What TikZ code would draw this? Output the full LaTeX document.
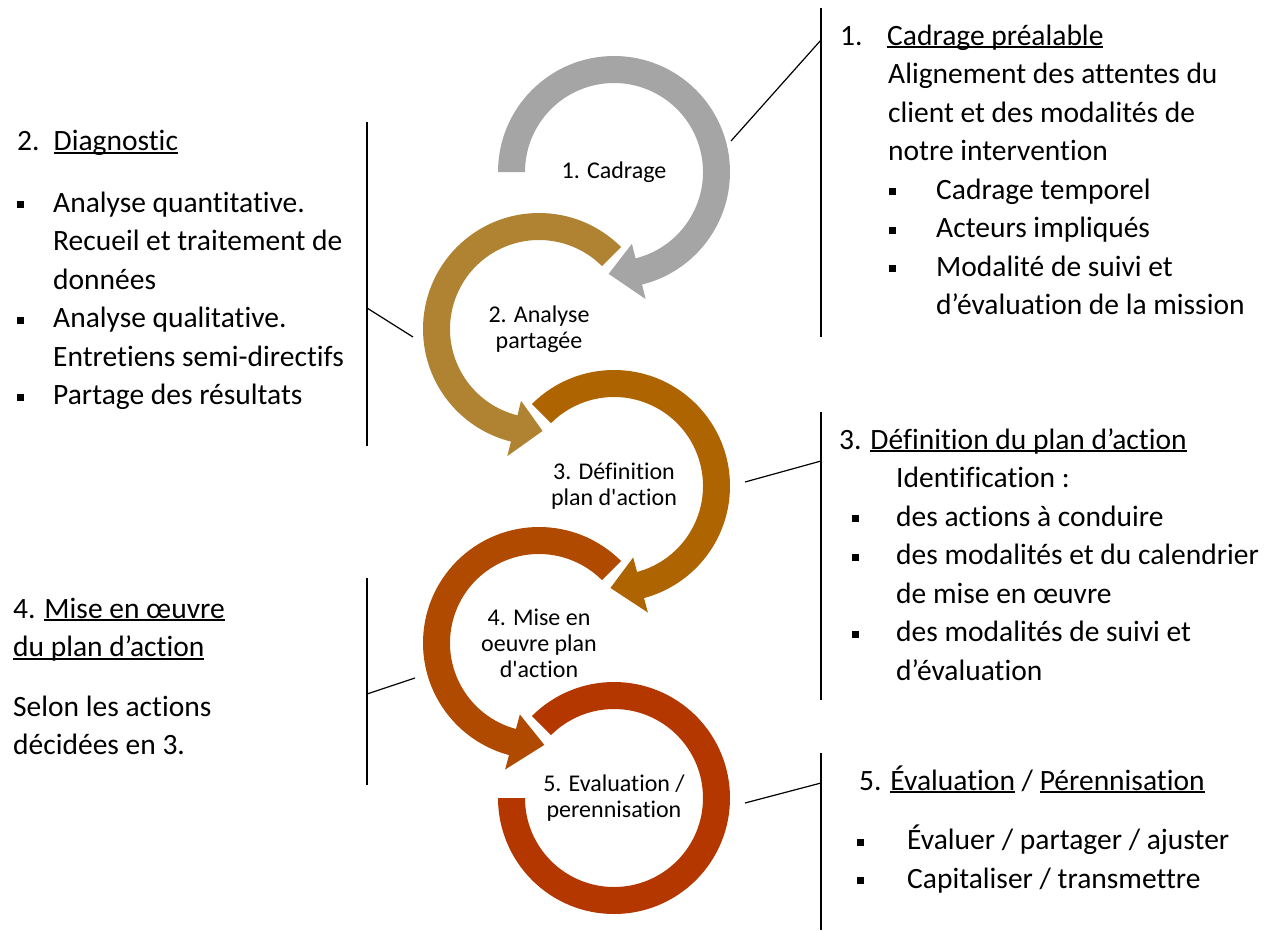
\documentclass[tikz,border=0pt]{standalone}
\usepackage{fontspec}
\setmainfont{Carlito}[Ligatures={TeXOff,NoCommon}]
\usepackage{tikz}
\usepackage{xcolor}

\definecolor{gris}{HTML}{A5A5A5}
\definecolor{ocre}{HTML}{B08332}
\definecolor{cuivre}{HTML}{AE6400}
\definecolor{rouille}{HTML}{B04A00}
\definecolor{brique}{HTML}{B53700}

\newcommand{\souligne}[1]{\setbox0=\hbox{#1}\rlap{\rule[-3pt]{\wd0}{1.6pt}}\box0\relax}
\newcommand{\boucle}[5]{\fill[#2, shift={(#1)}] (#3:116pt) arc[start angle=#3, end angle=#4, radius=116pt]
    -- (#4:131pt) -- (#5:102pt) -- (#4:74pt) -- (#4:89pt)
    arc[start angle=#4, end angle=#3, radius=89pt] -- cycle;}

\begin{document}
\begin{tikzpicture}[x=1pt, y=1pt,
    texte/.style={font=\fontsize{29.5}{38}\selectfont, inner sep=0pt, anchor=base west},
    etiquette/.style={font=\fontsize{24}{26}\selectfont, align=center, inner sep=0pt},
    puce/.style={fill=black, minimum size=7pt, inner sep=0pt},
    trait/.style={black, line width=1.2pt}]
        \path[fill=white, use as bounding box] (0,0) rectangle (1275,-930);

        \coordinate (c1) at (614,-172);
        \coordinate (c2) at (539,-329);
        \coordinate (c3) at (614,-486);
        \coordinate (c4) at (539,-643);
        \coordinate (c5) at (614,-798);

        \boucle{c1}{gris}{180}{-76}{-93}
        \boucle{c2}{ocre}{45}{256}{272}
        \boucle{c3}{cuivre}{135}{-75}{-92}
        \boucle{c4}{rouille}{45}{255}{273}
        \fill[brique, shift={(c5)}] (135:116pt) arc[start angle=135, end angle=-180, radius=116pt]
            -- (180:89pt) arc[start angle=-180, end angle=135, radius=89pt] -- cycle;

        \node[etiquette] (e1) at (c1) {1. Cadrage};
        \node[etiquette] (e2) at (c2) {2. Analyse\\partagée};
        \node[etiquette] (e3) at (c3) {3. Définition\\plan d'action};
        \node[etiquette] (e4) at (c4) {4. Mise en\\oeuvre plan\\d'action};
        \node[etiquette] (e5) at (c5) {5. Evaluation /\\perennisation};

        \node[texte] (t1) at (840,-45) {\makebox[47pt][l]{1.}\souligne{Cadrage préalable}};
        \foreach \ligne [count=\i] in {{Alignement des attentes du}, {client et des modalités de}, {notre intervention}}
            \node[texte] (t1l\i) at (888,-45-38.5*\i) {\ligne};
        \foreach \ligne [count=\i from 0] in {{Cadrage temporel}, {Acteurs impliqués}, {Modalité de suivi et}, {d’évaluation de la mission}}
            \node[texte] (t1b\i) at (936,-199-38.5*\i) {\ligne};
        \foreach \k in {0,1,2}
            \node[puce] (p1\k) at (892,-191.5-38.5*\k) {};

        \node[texte] (t2) at (17,-150.5) {\makebox[36.5pt][l]{2.}\souligne{Diagnostic}};
        \foreach \ligne [count=\i from 0] in {{Analyse quantitative.}, {Recueil et traitement de}, {données}, {Analyse qualitative.}, {Entretiens semi-directifs}, {Partage des résultats}}
            \node[texte] (t2l\i) at (53,-212-38.5*\i) {\ligne};
        \foreach \k in {0,3,5}
            \node[puce] (p2\k) at (20,-204.5-38.5*\k) {};

        \node[texte] (t3) at (839,-449) {3. \souligne{Définition du plan d’action}};
        \foreach \ligne [count=\i] in {{Identification :}, {des actions à conduire}, {des modalités et du calendrier}, {de mise en œuvre}, {des modalités de suivi et}, {d’évaluation}}
            \node[texte] (t3l\i) at (896,-449-38.5*\i) {\ligne};
        \foreach \k in {2,3,5}
            \node[puce] (p3\k) at (855,-441.5-38.5*\k) {};

        \node[texte] (t4) at (13,-618) {4. \souligne{Mise en œuvre}};
        \node[texte] (t4b) at (13,-656.5) {\souligne{du plan d’action}};
        \node[texte] (t4c) at (13,-716) {Selon les actions};
        \node[texte] (t4d) at (13,-754.5) {décidées en 3.};

        \node[texte] (t5) at (859,-790) {5. \souligne{Évaluation} / \souligne{Pérennisation}};
        \node[texte] (t5a) at (907,-849.5) {Évaluer / partager / ajuster};
        \node[texte] (t5b) at (907,-888) {Capitaliser / transmettre};
        \node[puce] (p5a) at (860,-842) {};
        \node[puce] (p5b) at (860,-880.5) {};

        \coordinate (v1h) at (821,-8);
        \coordinate (v1b) at (821,-337);
        \coordinate (v2h) at (367,-122);
        \coordinate (v2b) at (367,-446);
        \coordinate (v3h) at (821,-412);
        \coordinate (v3b) at (821,-700);
        \coordinate (v4h) at (367,-578);
        \coordinate (v4b) at (367,-785);
        \coordinate (v5h) at (821,-753);
        \coordinate (v5b) at (821,-930);
        \draw[trait] (v1h) -- (v1b);
        \draw[trait] (v2h) -- (v2b);
        \draw[trait] (v3h) -- (v3b);
        \draw[trait] (v4h) -- (v4b);
        \draw[trait] (v5h) -- (v5b);

        \coordinate (a1) at (731,-141);
        \coordinate (b1) at (821,-40);
        \coordinate (a2) at (413,-337);
        \coordinate (b2) at (367,-308);
        \coordinate (a3) at (745,-482);
        \coordinate (b3) at (821,-461);
        \coordinate (a4) at (415,-678);
        \coordinate (b4) at (367,-694);
        \coordinate (a5) at (745,-803);
        \coordinate (b5) at (821,-783);
        \draw[trait] (a1) -- (b1);
        \draw[trait] (a2) -- (b2);
        \draw[trait] (a3) -- (b3);
        \draw[trait] (a4) -- (b4);
        \draw[trait] (a5) -- (b5);
    \end{tikzpicture}
\end{document}
